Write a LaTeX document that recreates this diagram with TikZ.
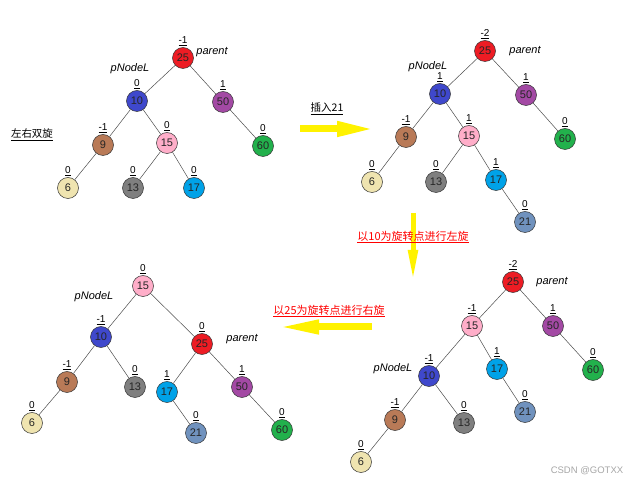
\documentclass[tikz,border=0pt]{standalone}
\usepackage{fontspec}
\setmainfont{Liberation Sans}
\newfontfamily\cjk{Noto Sans CJK SC}
\usetikzlibrary{arrows.meta}

\definecolor{c25}{HTML}{ED1C24}
\definecolor{c10}{HTML}{3F48CC}
\definecolor{c50}{HTML}{A349A4}
\definecolor{c9}{HTML}{B97A57}
\definecolor{c15}{HTML}{FFAEC9}
\definecolor{c60}{HTML}{22B14C}
\definecolor{c6}{HTML}{EFE4B0}
\definecolor{c13}{HTML}{7F7F7F}
\definecolor{c17}{HTML}{00A2E8}
\definecolor{c21}{HTML}{7092BE}
\definecolor{paintyellow}{HTML}{FFF200}

\tikzset{
  bst/.style={circle, draw=black!80, line width=0.5pt, minimum size=21pt, inner sep=0pt,
    font=\fontsize{11}{12}\selectfont, text=black!85},
  bf/.style={font=\fontsize{10}{11}\selectfont, inner sep=1.5pt},
  edge/.style={draw=black!70, line width=0.5pt},
  tag/.style={font=\fontsize{11}{12}\selectfont\itshape},
  note/.style={font=\fontsize{10.5}{12}\selectfont\cjk},
  rednote/.style={font=\fontsize{11}{12}\selectfont\cjk, text=red},
  bigarrow/.style={draw=paintyellow, line width=7pt, -{Triangle[length=38pt,width=14pt]}},
}

\begin{document}
\begin{tikzpicture}[x=1pt, y=-1pt]
\useasboundingbox (0,0) rectangle (638,486);

% first tree
\foreach \n/\x/\y/\b in {25/183/58/-1, 10/137/101/0, 50/223/102/1, 9/103/145/-1, 15/167/143/0,
    60/263/146/0, 6/68/188/0, 13/133/188/0, 17/194/188/0}
  \node[bst, fill=c\n, label={[bf]above:\underline{\b}}] (a\n) at (\x,\y) {\n};
\foreach \p/\c in {25/10, 25/50, 10/9, 10/15, 50/60, 9/6, 15/13, 15/17}
  \draw[edge] (a\p) -- (a\c);
\node[tag] (apl) at (130,69) {pNodeL};
\node[tag] (apa) at (212,52) {parent};
\node[note] (dbl) at (32,135) {\underline{左右双旋}};

% insert 21
\coordinate (ins0) at (300,129);
\coordinate (ins1) at (375,129);
\draw[bigarrow] (ins0) -- (ins1);
\node[note] (ins) at (327,109) {\underline{插入21}};

% second tree
\foreach \n/\x/\y/\b in {25/485/51/-2, 10/440/94/1, 50/526/95/1, 9/406/137/-1, 15/469/136/1,
    60/565/139/0, 6/372/182/0, 13/436/182/0, 17/496/180/1, 21/525/222/0}
  \node[bst, fill=c\n, label={[bf]above:\underline{\b}}] (b\n) at (\x,\y) {\n};
\foreach \p/\c in {25/10, 25/50, 10/9, 10/15, 50/60, 9/6, 15/13, 15/17, 17/21}
  \draw[edge] (b\p) -- (b\c);
\node[tag] (bpl) at (428,67) {pNodeL};
\node[tag] (bpa) at (525,51) {parent};

% left rotation
\coordinate (lr0) at (413,213);
\coordinate (lr1) at (413,282);
\draw[bigarrow, line width=5pt, -{Triangle[length=32pt,width=9pt]}] (lr0) -- (lr1);
\node[rednote] (lr) at (413,237) {\underline{以10为旋转点进行左旋}};

% third tree
\foreach \n/\x/\y/\b in {25/513/282/-2, 15/472/326/-1, 50/553/326/1, 10/429/376/-1, 17/497/369/1,
    60/593/370/0, 9/395/420/-1, 13/464/423/0, 21/525/412/0, 6/361/462/0}
  \node[bst, fill=c\n, label={[bf]above:\underline{\b}}] (c\n) at (\x,\y) {\n};
\foreach \p/\c in {25/15, 25/50, 15/10, 15/17, 50/60, 10/9, 10/13, 17/21, 9/6}
  \draw[edge] (c\p) -- (c\c);
\node[tag] (cpl) at (393,369) {pNodeL};
\node[tag] (cpa) at (552,282) {parent};

% right rotation
\coordinate (rr0) at (372,327);
\coordinate (rr1) at (277,327);
\draw[bigarrow, -{Triangle[length=42pt,width=13pt]}] (rr0) -- (rr1);
\node[rednote] (rr) at (329,311) {\underline{以25为旋转点进行右旋}};

% fourth tree
\foreach \n/\x/\y/\b in {15/143/286/0, 10/101/337/-1, 25/202/344/0, 9/67/382/-1, 13/135/387/0,
    17/167/392/1, 50/242/387/1, 6/32/423/0, 21/196/433/0, 60/282/430/0}
  \node[bst, fill=c\n, label={[bf]above:\underline{\b}}] (d\n) at (\x,\y) {\n};
\foreach \p/\c in {15/10, 15/25, 10/9, 10/13, 25/17, 25/50, 9/6, 17/21, 50/60}
  \draw[edge] (d\p) -- (d\c);
\node[tag] (dpl) at (94,297) {pNodeL};
\node[tag] (dpa) at (242,339) {parent};

\node[font=\fontsize{9.5}{11}\selectfont, text=black!35] (wm) at (587,471) {CSDN @GOTXX};
\end{tikzpicture}
\end{document}
